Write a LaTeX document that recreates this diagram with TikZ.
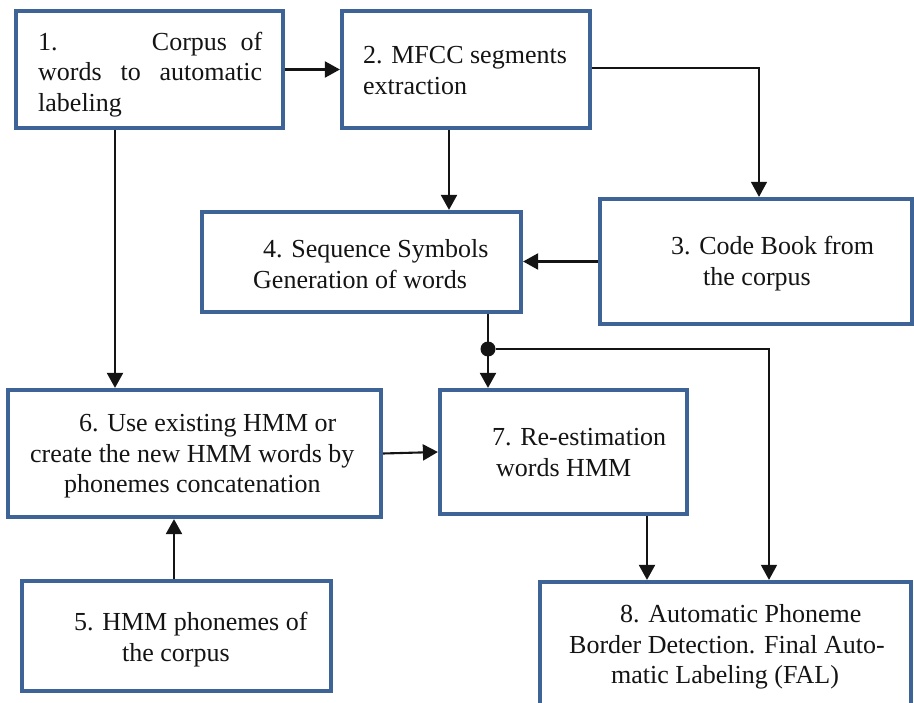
\documentclass[tikz,border=0pt]{standalone}
\usepackage{fontspec}
\setmainfont{Liberation Serif}
\usetikzlibrary{arrows.meta}
\definecolor{boxblue}{RGB}{62,99,150}
\definecolor{ink}{RGB}{20,20,20}
\begin{document}
\begin{tikzpicture}[x=1pt,y=-1pt,
  box/.style={draw=boxblue, line width=4.2pt, rectangle, inner sep=0pt, fill=white},
  txt/.style={anchor=north west, inner sep=0pt, align=left, text=ink, font=\fontsize{26}{30.5}\selectfont},
  arr/.style={draw=ink, line width=2.1pt, -{Triangle[length=15pt,width=16pt]}},
  thinline/.style={line width=1.2pt},
  midline/.style={line width=1.6pt}]
\useasboundingbox (0,0) rectangle (914,703);
\clip (0,0) rectangle (914,703);

% boxes
\node[box, minimum width=267pt, minimum height=117pt] (b1) at (149.5,69.5) {};
\node[box, minimum width=248pt, minimum height=117pt] (b2) at (466,69.5) {};
\node[box, minimum width=312pt, minimum height=125pt] (b3) at (756,261.5) {};
\node[box, minimum width=319pt, minimum height=100pt] (b4) at (361.5,262) {};
\node[box, minimum width=373pt, minimum height=127pt] (b6) at (194.5,453.5) {};
\node[box, minimum width=247pt, minimum height=124pt] (b7) at (563.5,452) {};
\node[box, minimum width=309pt, minimum height=110pt] (b5) at (176.5,636) {};
\node[box, minimum width=371pt, minimum height=126pt] (b8) at (725.5,645) {};

% texts
\node[txt, text width=224pt] (t1) at (38,31.8)
  {1.\hspace{0pt plus 7fill}Corpus\hspace{0pt plus 1fill}of\\words\hfill to\hfill automatic\\labeling};
\node[txt] (t2) at (363,46.3) {2. MFCC segments\\extraction};
\node[txt] (t3) at (671,236.3) {3. Code Book from\\\hspace*{32pt}the corpus};
\node[txt] (t4) at (253,239.3) {\hspace*{10pt}4. Sequence Symbols\\Generation of words};
\node[txt] (t5) at (74,612.3) {5. HMM phonemes of\\\hspace*{48pt}the corpus};
\node[txt] (t6) at (30,414.3) {\hspace*{49pt}6. Use existing HMM or\\create the new HMM words by\\\hspace*{34pt}phonemes concatenation};
\node[txt] (t7) at (492,428.3) {7. Re-estimation\\\hspace*{4pt}words HMM};
\node[txt] (t8) at (569,604.3) {\hspace*{51pt}8. Automatic Phoneme\\Border Detection. Final Auto-\\\hspace*{42pt}matic Labeling (FAL)};

% junction dot
\node[circle, fill=ink, inner sep=0pt, minimum size=15pt] (dot) at (488,349) {};

% helper coordinates
\coordinate (xA) at (449,0);
\coordinate (xB) at (115,0);
\coordinate (xC) at (174,0);
\coordinate (xD) at (647,0);
\coordinate (xE) at (769,0);
\coordinate (xF) at (759,0);
\coordinate (yG) at (0,68);

% connectors
\draw[arr] (b1.east) -- (b2.west);
\draw[arr, thinline] (b2.east |- yG) -| (b3.north -| xF);
\draw[arr] (b2.south -| xA) -- (b4.north -| xA);
\draw[arr] (b3.west) -- (b3.west -| b4.east);
\draw[arr] (b1.south -| xB) -- (b6.north -| xB);
\draw[arr] (b4.south -| dot) -- (b7.north -| dot);
\draw[arr, midline] (dot) -| (b8.north -| xE);
\draw[arr] (b6.east) -- (b7.west);
\draw[arr] (b5.north -| xC) -- (b6.south -| xC);
\draw[arr] (b7.south -| xD) -- (b8.north -| xD);
\end{tikzpicture}
\end{document}
